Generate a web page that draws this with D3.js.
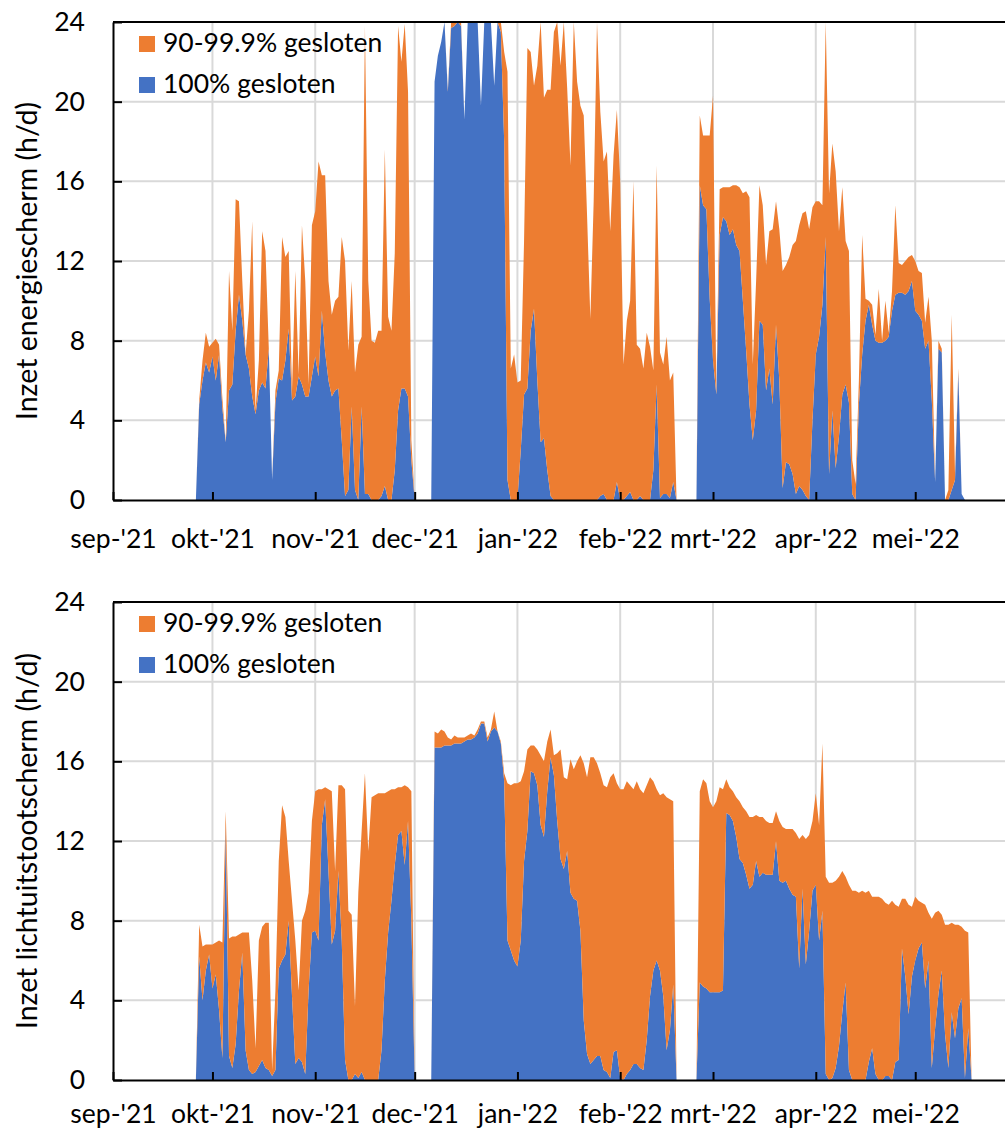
<!DOCTYPE html>
<html>
<head>
<meta charset="utf-8">
<script src="https://cdn.jsdelivr.net/npm/d3@7"></script>
<style>
  html, body { margin: 0; padding: 0; background: #fff; }
  svg { display: block; }
  text { font-family: Lato, "Open Sans", "Noto Sans", sans-serif; fill: #000; }
</style>
</head>
<body>
<svg id="chart" width="1005" height="1132"></svg>
<script>
// ---- categories -------------------------------------------------------
const firstDay = "2021-09-25";           // one value per day from here on
const axisStart = "2021-09-01";
const axisEnd = "2022-06-01";
const monthTicks = ["2021-09-01", "2021-10-01", "2021-11-01", "2021-12-01", "2022-01-01",
                    "2022-02-01", "2022-03-01", "2022-04-01", "2022-05-01"];
const monthLabels = ["sep-'21", "okt-'21", "nov-'21", "dec-'21", "jan-'22",
                     "feb-'22", "mrt-'22", "apr-'22", "mei-'22"];
const yTicks = [0, 4, 8, 12, 16, 20, 24];
const seriesLabels = ["100% gesloten", "90-99.9% gesloten"];
const seriesColors = ["#4472C4", "#ED7D31"];

// ---- energiescherm (h/d) ---------------------------------------------
const energyFull = [
  0, 0, 4.8, 6.0, 6.9, 6.4,
  7.2, 6.0, 7.3, 4.6, 2.9, 5.5, 5.8, 8.5, 10.3, 9.0, 7.3, 6.6, 5.2, 4.3, 5.5, 5.9, 5.6, 7.6, 1.0, 4.9, 6.1, 6.0, 7.0, 8.6, 5.0, 5.2, 6.2, 5.8, 5.2, 5.2, 6.2,
  7.2, 6.2, 9.5, 7.4, 6.0, 5.2, 5.5, 5.6, 3.0, 0.2, 0.5, 4.7, 0.5, 0, 4.7, 0.3, 0.3, 0, 0, 0, 0.2, 0.7, 0, 0, 1.5, 4.5, 5.6, 5.6, 5.2, 2.0,
  0, 0, 0, 0, 0, 0, 21.0, 22.3, 23.0, 24, 20.5, 23.7, 23.8, 24, 23.8, 19.1, 24, 24, 24, 24, 19.8, 24, 24, 24, 20.8, 24, 23.5, 18.0, 1.0, 0, 0,
  0, 2.5, 5.3, 5.6, 8.5, 9.6, 6.0, 2.9, 3.1, 1.5, 0.2, 0, 0, 0, 0, 0, 0, 0, 0, 0, 0, 0, 0, 0, 0, 0.2, 0.3, 0, 0, 0, 0.9,
  0, 0, 0.2, 0.4, 0, 0, 0.2, 0, 0, 0, 1.5, 5.8, 0.1, 0.3, 0.3, 0.1, 0.9, 0, 0, 0, 0, 0, 0, 0, 15.8, 14.8, 14.6, 10.1,
  7.0, 5.3, 13.3, 14.2, 14.0, 13.3, 13.6, 12.8, 12.5, 10.0, 7.5, 4.8, 3.0, 4.5, 9.0, 8.8, 5.5, 6.6, 4.8, 8.8, 6.0, 0.6, 1.9, 1.8, 1.3, 0.3, 0.7, 0.5, 0.2, 0, 4.0,
  7.3, 8.2, 9.8, 13.2, 1.3, 4.5, 1.6, 3.2, 5.3, 5.8, 4.9, 0.3, 0, 4.8, 7.3, 9.0, 9.8, 8.8, 8.0, 7.9, 7.9, 8.0, 8.2, 9.5, 10.3, 10.4, 10.4, 10.3, 10.5, 11.0,
  9.5, 9.3, 9.0, 7.6, 8.0, 5.0, 0.9, 7.6, 7.4, 0, 0, 0.5, 1.0, 6.4, 0.3, 0, 0, 0
];
const energyPartial = [
  0, 0, 0.2, 1.0, 1.5, 1.3,
  0.7, 2.1, 0.5, 0.5, 0, 6.0, 2.7, 6.6, 4.7, 2.0, 0, 2.9, 8.8, 0.2, 1.5, 7.6, 6.9, 0, 0, 0.6, 0.4, 7.2, 5.2, 3.9, 0.5, 6.3, 0.1, 8.0, 5.8, 0.6, 7.6,
  7.3, 10.8, 6.8, 8.9, 5.0, 4.1, 4.5, 4.6, 10.2, 11.8, 7.0, 6.3, 5.9, 7.8, 3.5, 23.5, 10.7, 8.0, 7.9, 8.5, 8.3, 16.9, 9.2, 8.5, 10.9, 19.3, 16.4, 18.3, 15.3, 1.0,
  0, 0, 0, 0, 0, 0, 0, 0, 0, 0, 0.1, 0.3, 0.2, 0, 0.2, 0, 0, 0, 0, 0, 0, 0, 0, 0, 0, 0, 0.5, 4.5, 20.5, 6.6, 7.3,
  5.9, 3.5, 7.7, 17.1, 14.0, 11.2, 15.8, 21.1, 17.1, 19.1, 20.4, 23.5, 24, 21.8, 24, 20.7, 16.8, 24, 21.0, 19.8, 19.3, 14.3, 9.1, 15.0, 24, 19.3, 16.7, 17.5, 13.5, 17.3, 18.7,
  16.0, 6.8, 8.8, 9.6, 16.0, 7.8, 7.4, 6.6, 8.4, 7.7, 5.0, 11.0, 7.3, 6.5, 7.9, 5.9, 5.5, 0, 0, 0, 0, 0, 0, 0, 3.5, 3.5, 3.7, 8.2,
  13.3, 0.1, 2.3, 1.5, 1.7, 2.4, 2.2, 3.0, 3.2, 5.4, 8.0, 10.4, 3.8, 6.5, 6.8, 6.0, 6.3, 6.9, 8.8, 6.2, 7.6, 10.9, 9.9, 10.4, 11.5, 12.7, 13.1, 13.9, 14.3, 13.6, 10.7,
  7.7, 6.8, 5.0, 10.8, 14.1, 13.4, 14.9, 10.3, 10.4, 7.2, 7.6, 1.7, 0.8, 1.2, 6.0, 1.1, 0.2, 1.0, 0.3, 2.7, 0.1, 2.0, 0.2, 1.0, 4.5, 1.5, 1.4, 1.7, 1.7, 1.3,
  2.5, 2.2, 2.4, 1.3, 2.2, 3.0, 0, 0.4, 0.2, 0, 0.5, 8.8, 0.3, 0.2, 0, 0, 0, 0
];

// ---- lichtuitstootscherm (h/d) ---------------------------------------
const lightFull = [
  0, 0, 6.2, 4.0, 5.5, 6.3,
  4.6, 5.3, 3.5, 1.1, 12.8, 1.2, 0.6, 1.8, 4.5, 6.4, 1.5, 0.5, 0.3, 0.4, 0.7, 1.0, 0.6, 0.5, 0.2, 0.5, 5.6, 6.0, 6.3, 8.0, 4.2, 0.8, 1.1, 0.9, 0.3, 4.5, 7.4,
  7.5, 7.0, 12.8, 14.1, 10.5, 6.8, 7.5, 10.5, 7.0, 1.0, 0, 0, 0.3, 0.1, 0.4, 0, 0, 0, 0, 0, 1.5, 5.0, 7.4, 9.0, 10.8, 12.3, 12.5, 10.8, 13.0, 8.0,
  0, 0, 0, 0, 0, 0, 16.7, 16.7, 16.7, 16.8, 16.8, 16.8, 16.9, 16.9, 16.9, 17.0, 17.1, 17.1, 17.2, 17.4, 17.9, 17.9, 17.0, 17.5, 17.7, 17.5, 16.9, 15.0, 7.0, 6.5, 6.0,
  5.7, 7.0, 11.0, 12.5, 15.5, 15.4, 14.8, 12.8, 12.2, 14.5, 16.2, 15.3, 13.0, 11.1, 10.6, 11.5, 9.4, 9.1, 9.0, 7.5, 3.0, 1.3, 0.8, 1.0, 1.2, 1.2, 0.5, 0.4, 0.1, 1.4, 1.5,
  0.1, 0, 0.3, 0.5, 0.8, 0.8, 0.6, 0.5, 2.0, 4.2, 5.5, 6.0, 5.5, 4.2, 1.5, 2.5, 4.8, 0, 0, 0, 0, 0, 0, 0, 4.9, 4.7, 4.6, 4.4,
  4.4, 4.4, 4.4, 4.5, 13.4, 13.3, 13.0, 12.2, 11.1, 10.9, 10.3, 9.6, 9.8, 11.0, 10.2, 10.4, 10.3, 10.3, 10.3, 12.0, 10.0, 9.9, 10.0, 9.6, 9.3, 9.2, 5.6, 9.6, 5.8, 7.5, 9.5,
  9.8, 7.0, 8.5, 0.3, 0, 0.1, 0.6, 1.7, 3.4, 4.9, 0.5, 0, 0, 0, 0, 0, 0.9, 1.6, 0.3, 0, 0, 0.2, 0.2, 0, 0.9, 1.0, 6.6, 5.2, 3.3, 5.2,
  6.0, 6.6, 6.9, 4.6, 6.0, 0.6, 2.6, 4.3, 5.5, 2.3, 0.6, 3.4, 2.1, 3.6, 4.1, 0.1, 2.6, 0
];
const lightPartial = [
  0, 0, 1.6, 2.7, 1.3, 0.5,
  2.2, 1.6, 3.5, 5.8, 0.7, 5.9, 6.6, 5.4, 2.8, 1.0, 5.9, 6.9, 4.7, 1.2, 6.3, 6.7, 7.3, 7.4, 0.3, 4.0, 5.4, 7.8, 6.9, 3.0, 4.8, 6.2, 3.4, 7.1, 8.2, 4.9, 5.6,
  7.0, 7.6, 1.8, 0.6, 4.1, 7.7, 3.0, 4.3, 7.8, 13.6, 8.5, 8.3, 3.4, 9.3, 12.1, 15.4, 11.5, 14.2, 14.3, 14.4, 12.9, 9.4, 7.1, 5.6, 3.8, 2.4, 2.2, 4.0, 1.7, 6.5,
  0, 0, 0, 0, 0, 0, 0.8, 0.7, 0.9, 0.7, 0.4, 0.3, 0.4, 0.3, 0.3, 0.2, 0.2, 0.3, 0.1, 0.2, 0.1, 0.1, 0.2, 0.1, 0.8, 0, 0.1, 0.4, 7.9, 8.3, 8.9,
  9.2, 8.0, 4.5, 4.1, 1.3, 1.4, 1.8, 3.5, 3.8, 2.5, 1.4, 1.0, 3.4, 5.5, 4.6, 3.6, 6.7, 6.5, 7.0, 8.8, 12.9, 13.9, 15.4, 15.2, 14.7, 14.2, 14.3, 14.3, 15.1, 14.0, 13.4,
  14.5, 14.6, 14.7, 14.3, 13.8, 14.2, 14.0, 13.9, 12.8, 11.0, 9.5, 8.6, 8.8, 10.2, 12.7, 11.6, 9.2, 0, 0, 0, 0, 0, 0, 0, 9.6, 10.4, 10.3, 9.6,
  9.3, 9.6, 10.3, 10.1, 1.7, 1.4, 1.5, 2.0, 2.9, 2.8, 3.2, 3.6, 3.4, 2.3, 3.0, 2.8, 2.7, 2.6, 2.6, 1.5, 3.0, 2.8, 2.6, 3.0, 3.3, 3.2, 6.5, 2.7, 6.3, 4.8, 3.5,
  4.6, 5.8, 8.4, 9.9, 9.9, 9.8, 9.4, 8.5, 7.1, 5.3, 9.3, 9.5, 9.5, 9.4, 9.5, 9.4, 8.6, 7.6, 8.9, 9.2, 9.1, 8.7, 8.6, 9.0, 7.9, 7.7, 2.5, 3.9, 5.5, 3.5,
  3.2, 2.4, 2.0, 4.2, 2.4, 7.5, 5.8, 4.2, 2.8, 5.5, 7.2, 4.5, 5.7, 4.2, 3.6, 7.4, 4.8, 0
];

// ---- drawing ------------------------------------------------------------
const parse = d3.utcParse("%Y-%m-%d");
const start = parse(firstDay);
const dates = energyFull.map((_, i) => d3.utcDay.offset(start, i));
const tickDates = monthTicks.map(parse);

const plotLeft = 113, plotRight = 1018, plotHeight = 478;
const labelSize = 26.5;
const titleSize = 28.5;

const x = d3.scaleUtc()
  .domain([parse(axisStart), parse(axisEnd)])
  .range([plotLeft, plotRight]);

const svg = d3.select("#chart");

function drawPanel(id, top, full, partial, title, labelGap) {
  const y = d3.scaleLinear().domain([0, 24]).range([top + plotHeight, top]);
  const g = svg.append("g").attr("id", id);

  // gridlines
  g.append("g").selectAll("line")
    .data(yTicks.filter(v => v > 0 && v < 24))
    .join("line")
    .attr("x1", plotLeft).attr("x2", plotRight)
    .attr("y1", d => y(d)).attr("y2", d => y(d))
    .attr("stroke", "#d9d9d9").attr("stroke-width", 2);
  g.append("g").selectAll("line")
    .data(tickDates.slice(1))
    .join("line")
    .attr("x1", d => x(d)).attr("x2", d => x(d))
    .attr("y1", top).attr("y2", top + plotHeight)
    .attr("stroke", "#d9d9d9").attr("stroke-width", 2);

  // stacked areas
  const rows = dates.map((date, i) => ({ date, full: full[i], partial: partial[i] }));
  const stacked = d3.stack().keys(["full", "partial"])(rows);
  const area = d3.area()
    .x(d => x(d.data.date))
    .y0(d => y(d[0]))
    .y1(d => y(d[1]));

  g.append("clipPath").attr("id", id + "-clip")
    .append("rect")
    .attr("x", plotLeft).attr("y", top)
    .attr("width", plotRight - plotLeft).attr("height", plotHeight);

  g.append("g").attr("clip-path", `url(#${id}-clip)`)
    .selectAll("path")
    .data(stacked)
    .join("path")
    .attr("fill", (d, i) => seriesColors[i])
    .attr("d", area);

  // top frame line
  g.append("line")
    .attr("x1", plotLeft).attr("x2", plotRight)
    .attr("y1", top).attr("y2", top)
    .attr("stroke", "#000").attr("stroke-width", 2);

  // axes
  const xAxis = d3.axisBottom(x)
    .tickValues(tickDates)
    .tickFormat((d, i) => monthLabels[i])
    .tickSize(-8).tickSizeOuter(0).tickPadding(labelGap);
  const yAxis = d3.axisLeft(y)
    .tickValues(yTicks)
    .tickSize(-9).tickSizeOuter(0).tickPadding(28);

  const gx = g.append("g").attr("transform", `translate(0,${top + plotHeight})`).call(xAxis);
  const gy = g.append("g").attr("transform", `translate(${plotLeft},0)`).call(yAxis);
  [gx, gy].forEach(a => {
    a.attr("font-family", null).attr("font-size", null);
    a.select(".domain").attr("stroke", "#000").attr("stroke-width", 2);
    a.selectAll(".tick line").attr("stroke", "#000").attr("stroke-width", 2);
    a.selectAll(".tick text").style("font-size", labelSize + "px").attr("fill", "#000");
  });

  // axis title
  g.append("text")
    .attr("transform", `translate(26,${top + plotHeight / 2}) rotate(-90)`)
    .attr("text-anchor", "middle")
    .attr("dominant-baseline", "central")
    .style("font-size", titleSize + "px")
    .text(title);

  // legend (orange first, then blue)
  const legend = g.append("g");
  [1, 0].forEach((s, row) => {
    const ly = top + 14 + row * 41;
    legend.append("rect")
      .attr("x", 139).attr("y", ly)
      .attr("width", 16).attr("height", 16)
      .attr("fill", seriesColors[s]);
    legend.append("text")
      .attr("x", 163).attr("y", ly + 16)
      .style("font-size", labelSize + "px")
      .text(seriesLabels[s]);
  });
}

drawPanel("energie", 22, energyFull, energyPartial, "Inzet energiescherm (h/d)", 29);
drawPanel("licht", 602, lightFull, lightPartial, "Inzet lichtuitstootscherm (h/d)", 24);
</script>
</body>
</html>
